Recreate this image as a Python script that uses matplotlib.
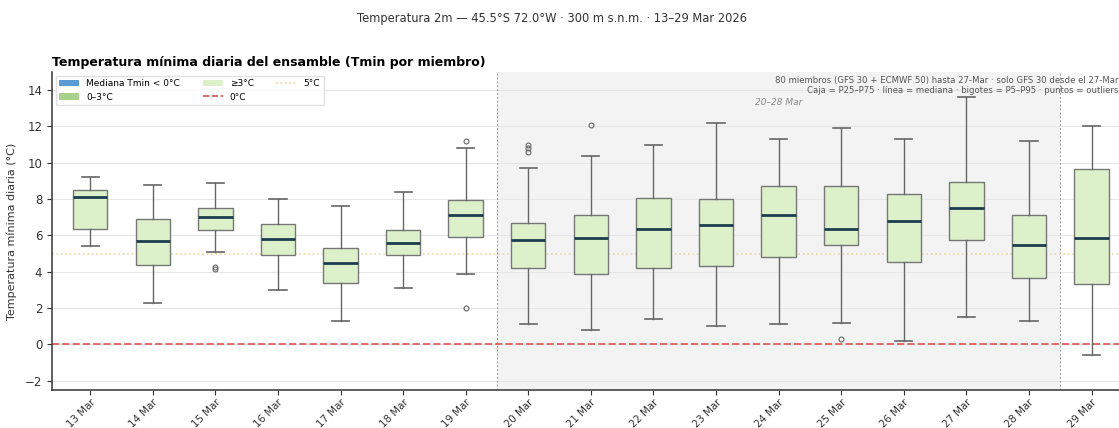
import numpy as np
import matplotlib
matplotlib.use("Agg")
import matplotlib.pyplot as plt
from matplotlib.patches import Patch
from matplotlib.lines import Line2D

# datos
dias = ["13 Mar", "14 Mar", "15 Mar", "16 Mar", "17 Mar", "18 Mar", "19 Mar", "20 Mar",
        "21 Mar", "22 Mar", "23 Mar", "24 Mar", "25 Mar", "26 Mar", "27 Mar", "28 Mar", "29 Mar"]
p5 = [5.4, 2.3, 5.1, 3.0, 1.3, 3.1, 3.9, 1.1, 0.8, 1.4, 1.0, 1.1, 1.2, 0.2, 1.5, 1.3, -0.6]
p25 = [6.35, 4.35, 6.3, 4.9, 3.4, 4.9, 5.9, 4.2, 3.9, 4.2, 4.3, 4.8, 5.45, 4.55, 5.75, 3.65, 3.35]
mediana = [8.1, 5.7, 7.0, 5.8, 4.5, 5.6, 7.15, 5.75, 5.85, 6.35, 6.6, 7.1, 6.35, 6.8, 7.5, 5.45, 5.85]
p75 = [8.5, 6.9, 7.5, 6.65, 5.3, 6.3, 7.95, 6.7, 7.1, 8.05, 8.0, 8.7, 8.7, 8.3, 8.95, 7.15, 9.65]
p95 = [9.2, 8.8, 8.9, 8.0, 7.6, 8.4, 10.8, 9.7, 10.35, 10.95, 12.2, 11.3, 11.9, 11.3, 13.6, 11.2, 12.05]
outliers = [[], [], [4.15, 4.25], [], [], [], [11.2, 2.0], [10.6, 10.8, 10.95],
            [12.1], [], [], [], [0.3], [], [], [], []]

suptitulo = "Temperatura 2m — 45.5°S 72.0°W · 300 m s.n.m. · 13–29 Mar 2026"
titulo = "Temperatura mínima diaria del ensamble (Tmin por miembro)"
nota = ("80 miembros (GFS 30 + ECMWF 50) hasta 27-Mar · solo GFS 30 desde el 27-Mar\n"
        "Caja = P25–P75 · línea = mediana · bigotes = P5–P95 · puntos = outliers")

c_azul = "#5b9bd5"
c_verde = "#a9d18e"
c_claro = "#dcf0c9"

fig = plt.figure(figsize=(11.19, 4.28), dpi=100)
ax = fig.add_axes([0.0465, 0.089, 0.9625, 0.743])

x = np.arange(len(dias))

# zona 20-28 Mar
ax.axvspan(6.5, 15.5, color="#ececec", alpha=0.6, zorder=0, lw=0)
ax.axvline(6.5, color="#999999", ls=(0, (2, 2)), lw=0.7, zorder=1)
ax.axvline(15.5, color="#999999", ls=(0, (2, 2)), lw=0.7, zorder=1)
ax.text(11, 13.3, "20–28 Mar", ha="center", va="center", fontsize=6.5,
        style="italic", color="#888888")

ax.axhline(0, color="#d9534f", ls="--", lw=1.4, alpha=0.85, zorder=1)
ax.axhline(5, color="#e8d8a8", ls=":", lw=1.2, zorder=1)

stats = []
for i in range(len(dias)):
    stats.append(dict(whislo=p5[i], q1=p25[i], med=mediana[i], q3=p75[i],
                      whishi=p95[i], fliers=outliers[i]))

bp = ax.bxp(stats, positions=x, widths=0.55, patch_artist=True,
            boxprops=dict(edgecolor="#777777", lw=1.0),
            medianprops=dict(color="#1b3d4f", lw=2.0),
            whiskerprops=dict(color="#666666", lw=1.0),
            capprops=dict(color="#666666", lw=1.2),
            flierprops=dict(marker="o", markersize=3.5, markerfacecolor="none",
                            markeredgecolor="#666666", markeredgewidth=0.8))
for caja, m in zip(bp["boxes"], mediana):
    if m < 0:
        caja.set_facecolor(c_azul)
    elif m < 3:
        caja.set_facecolor(c_verde)
    else:
        caja.set_facecolor(c_claro)
    caja.set_zorder(2)

ax.set_xlim(-0.61, 16.6)
ax.set_ylim(-2.5, 15)
ax.set_yticks([-2, 0, 2, 4, 6, 8, 10, 12, 14])
ax.set_xticks(x)
ax.set_xticklabels(dias, rotation=45, ha="right", rotation_mode="anchor", fontsize=7.4)
ax.tick_params(axis="y", labelsize=8.5, colors="#333333")
ax.tick_params(axis="x", colors="#333333", pad=1.5)
ax.grid(axis="y", color="#e6e6e6", lw=0.8)
ax.set_axisbelow(True)
ax.spines["top"].set_visible(False)
ax.spines["right"].set_visible(False)
ax.spines["left"].set_color("#444444")
ax.spines["bottom"].set_color("#444444")
ax.spines["left"].set_linewidth(1.2)
ax.spines["bottom"].set_linewidth(1.2)
ax.set_ylabel("Temperatura mínima diaria (°C)", fontsize=8, color="#333333", labelpad=6)

ax.set_title(titulo, loc="left", fontsize=9, fontweight="bold", pad=4)
fig.suptitle(suptitulo, x=0.493, y=0.956, va="center", fontsize=8.3, color="#333333")

ax.text(0.99, 0.988, nota, transform=ax.transAxes, ha="right", va="top",
        fontsize=6.1, color="#555555", linespacing=1.2)

handles = [Patch(facecolor=c_azul, label="Mediana Tmin < 0°C"),
           Patch(facecolor=c_verde, label="0–3°C"),
           Patch(facecolor=c_claro, label="≥3°C"),
           Line2D([], [], color="#d9534f", ls="--", lw=1.2, label="0°C"),
           Line2D([], [], color="#e8d8a8", ls=":", lw=1.2, label="5°C")]
ax.legend(handles=handles, loc="upper left", ncol=3, fontsize=6.5, frameon=True,
          framealpha=0.9, edgecolor="#dddddd", handlelength=2.2, columnspacing=2.5,
          borderaxespad=0.4)

fig.savefig("out.png", dpi=100)
